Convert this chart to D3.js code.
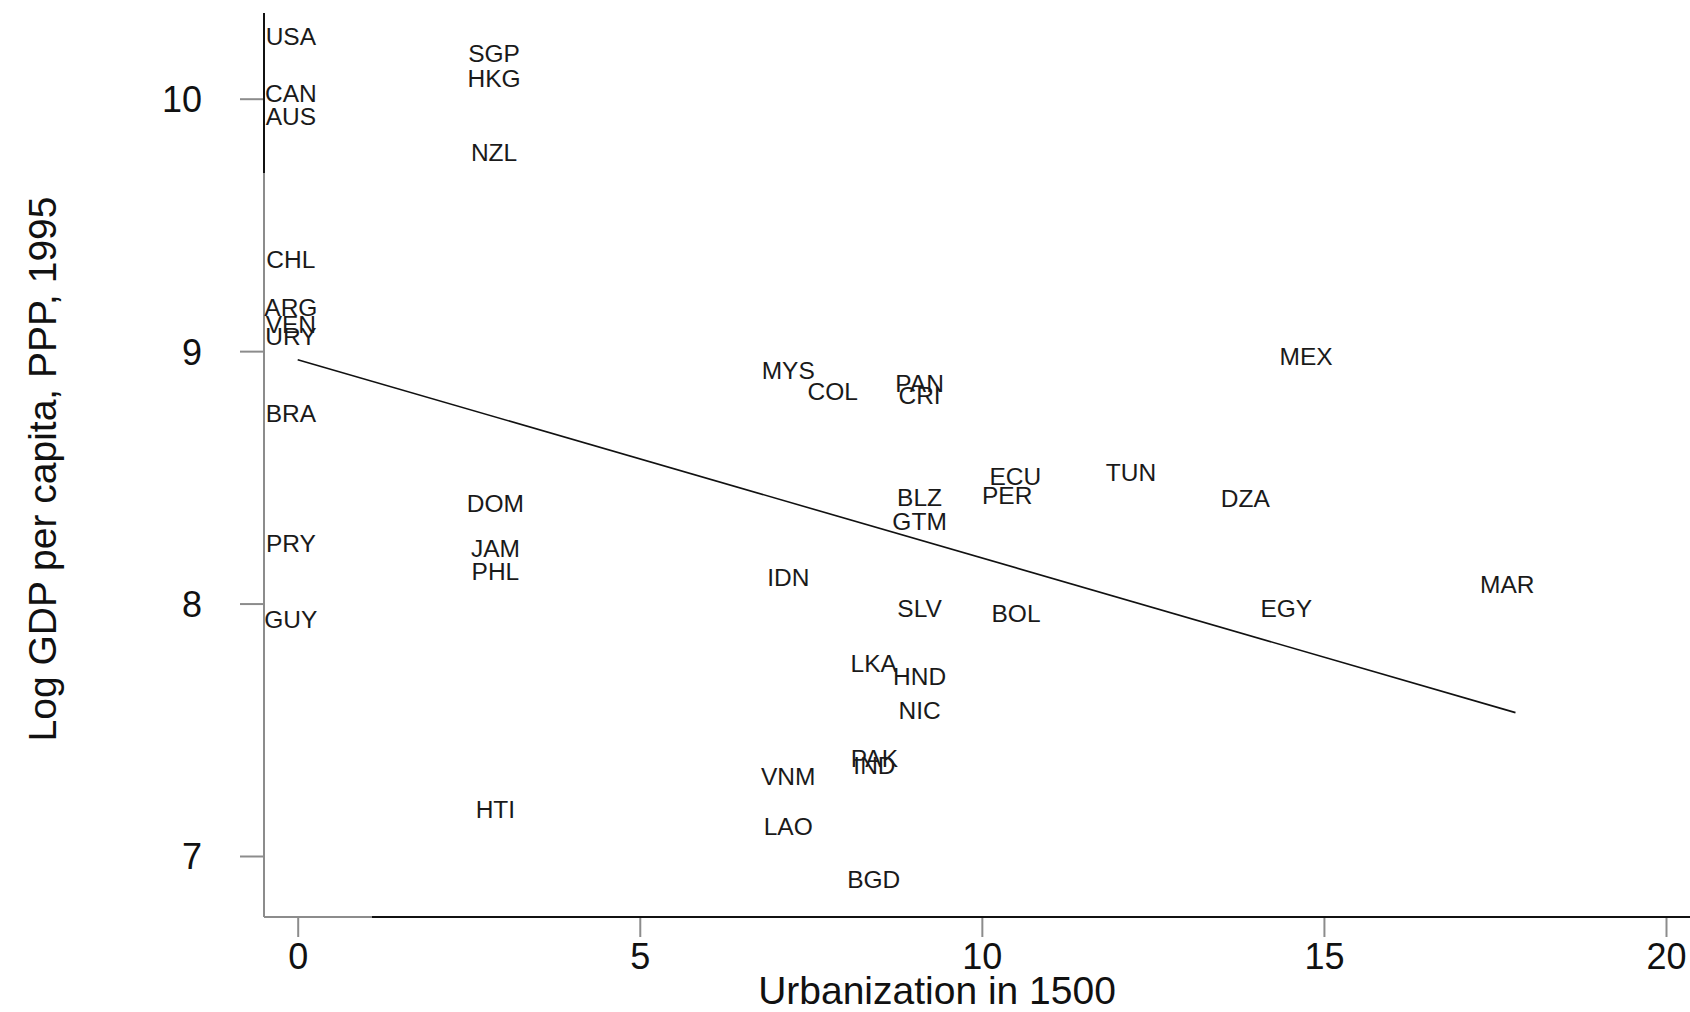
<!DOCTYPE html>
<html>
<head>
<meta charset="utf-8">
<script src="https://cdn.jsdelivr.net/npm/d3@7"></script>
<style>
	body { margin: 0; background: #fff; }
	svg text { font-family: "Liberation Sans", Arial, sans-serif; }
</style>
</head>
<body>
<div id="chart"></div>
<script>
// country codes and values
let codes = ['USA', 'CAN', 'AUS', 'SGP', 'HKG', 'NZL', 'CHL', 'ARG', 'VEN', 'URY', 'BRA',
	'DOM', 'PRY', 'JAM', 'PHL', 'GUY', 'HTI', 'MYS', 'COL', 'PAN', 'CRI', 'MEX',
	'ECU', 'PER', 'TUN', 'DZA', 'BLZ', 'GTM', 'IDN', 'SLV', 'BOL', 'EGY', 'MAR',
	'LKA', 'HND', 'NIC', 'PAK', 'IND', 'VNM', 'LAO', 'BGD'];

let urban1500 = [-0.1, -0.1, -0.1, 2.87, 2.87, 2.87, -0.1, -0.1, -0.1, -0.1, -0.1,
	2.89, -0.1, 2.89, 2.89, -0.1, 2.89, 7.17, 7.82, 9.09, 9.09, 14.74,
	10.49, 10.37, 12.18, 13.85, 9.09, 9.09, 7.17, 9.09, 10.5, 14.45, 17.68,
	8.42, 9.09, 9.09, 8.43, 8.43, 7.17, 7.17, 8.42];

let logGdp = [10.248, 10.021, 9.932, 10.181, 10.082, 9.79, 9.364, 9.174, 9.108, 9.058, 8.755,
	8.397, 8.239, 8.218, 8.128, 7.94, 7.184, 8.923, 8.842, 8.872, 8.825, 8.979,
	8.506, 8.429, 8.519, 8.419, 8.423, 8.325, 8.103, 7.98, 7.96, 7.98, 8.077,
	7.765, 7.714, 7.577, 7.389, 7.36, 7.316, 7.12, 6.91];

// fitted values line
let fitX = [0, 17.8];
let fitY = [8.966, 7.568];

let xTicks = [0, 5, 10, 15, 20];
let yTicks = [7, 8, 9, 10];

let width = 1690;
let height = 1012;

let svg = d3.select('#chart').append('svg')
	.attr('width', width)
	.attr('height', height);

svg.append('rect')
	.attr('width', width)
	.attr('height', height)
	.attr('fill', '#fff');

let x = d3.scaleLinear().domain([0, 20]).range([297.7, 1666]);
let y = d3.scaleLinear().domain([7, 10]).range([856, 98.7]);

let frameLeft = 264;
let frameBottom = 917;
let frameTop = 13;
let gray = '#8c8c8c';

// x axis
let xAxis = svg.append('g')
	.attr('transform', 'translate(0,' + frameBottom + ')')
	.call(d3.axisBottom(x).tickValues(xTicks).tickFormat(d3.format('d'))
		.tickSize(20).tickSizeOuter(0).tickPadding(6));
xAxis.select('.domain').remove();
xAxis.selectAll('line').attr('stroke', gray).attr('stroke-width', 2);
xAxis.selectAll('text')
	.attr('font-size', 36)
	.attr('fill', '#111');

// y axis
let yAxis = svg.append('g')
	.attr('transform', 'translate(' + frameLeft + ',0)')
	.call(d3.axisLeft(y).tickValues(yTicks).tickFormat(d3.format('d'))
		.tickSize(24).tickSizeOuter(0).tickPadding(38));
yAxis.select('.domain').remove();
yAxis.selectAll('line').attr('stroke', gray).attr('stroke-width', 2);
yAxis.selectAll('text')
	.attr('font-size', 36)
	.attr('fill', '#111')
	.attr('dy', '0.36em');

// axis lines: gray, partly overdrawn in black
svg.append('line')
	.attr('x1', frameLeft).attr('x2', frameLeft)
	.attr('y1', frameTop).attr('y2', frameBottom)
	.attr('stroke', gray).attr('stroke-width', 2);
svg.append('line')
	.attr('x1', frameLeft).attr('x2', width)
	.attr('y1', frameBottom).attr('y2', frameBottom)
	.attr('stroke', gray).attr('stroke-width', 2);
svg.append('line')
	.attr('x1', frameLeft).attr('x2', frameLeft)
	.attr('y1', frameTop).attr('y2', frameTop + 160)
	.attr('stroke', '#111').attr('stroke-width', 2);
svg.append('line')
	.attr('x1', frameLeft + 108).attr('x2', width)
	.attr('y1', frameBottom).attr('y2', frameBottom)
	.attr('stroke', '#111').attr('stroke-width', 2);

// fitted line
svg.append('path')
	.datum(fitX.map((v, i) => [v, fitY[i]]))
	.attr('fill', 'none')
	.attr('stroke', '#111')
	.attr('stroke-width', 1.6)
	.attr('d', d3.line().x(d => x(d[0])).y(d => y(d[1])));

// country labels
svg.append('g')
	.selectAll('text')
	.data(codes)
	.enter()
	.append('text')
	.attr('x', (d, i) => x(urban1500[i]))
	.attr('y', (d, i) => y(logGdp[i]))
	.attr('dy', '0.36em')
	.attr('text-anchor', 'middle')
	.attr('font-size', 24.5)
	.attr('fill', '#1a1a1a')
	.text(d => d);

// axis titles
svg.append('text')
	.attr('x', 937)
	.attr('y', 1004)
	.attr('text-anchor', 'middle')
	.attr('font-size', 39)
	.attr('fill', '#111')
	.text('Urbanization in 1500');

svg.append('text')
	.attr('transform', 'translate(56,469) rotate(-90)')
	.attr('text-anchor', 'middle')
	.attr('font-size', 39)
	.attr('fill', '#111')
	.text('Log GDP per capita, PPP, 1995');
</script>
</body>
</html>
